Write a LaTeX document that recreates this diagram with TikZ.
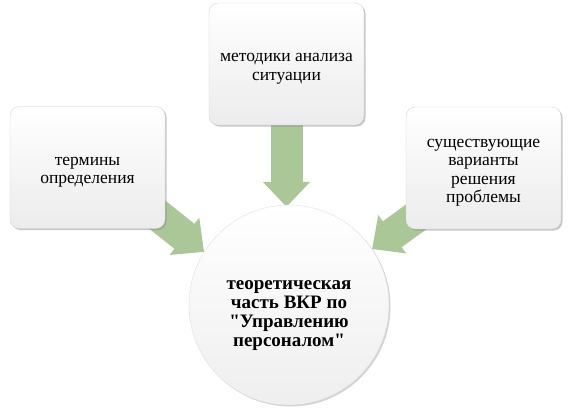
\documentclass[tikz,border=0pt]{standalone}
\usepackage{fontspec}
\setmainfont{Liberation Serif}[Ligatures=TeXOff]
\usetikzlibrary{arrows.meta, shadows}
\definecolor{feedgreen}{RGB}{170,199,152}
\pgfdeclarelayer{back}
\pgfsetlayers{back,main}
\newcommand{\padtop}[1]{\rule{0pt}{#1}}

\begin{document}
\begin{tikzpicture}[x=1pt, y=-1pt,
    topic/.style={rectangle, draw=gray!35, thin, top color=white, bottom color=gray!15,
                  drop shadow={shadow xshift=1.5pt, shadow yshift=-1.5pt, opacity=0.45},
                  rounded corners=9pt, minimum width=155pt, minimum height=122pt,
                  align=center, font=\fontsize{17.5}{18.5}\selectfont},
    core/.style={circle, draw=gray!25, thin, top color=white, bottom color=gray!13,
                 drop shadow={shadow xshift=1.5pt, shadow yshift=-1.5pt, opacity=0.35},
                 minimum size=200pt, align=center,
                 font=\bfseries\fontsize{19}{19}\selectfont},
    feed/.style={line width=32pt, draw=feedgreen, -{Triangle[length=25pt, width=46pt]}}]

    \useasboundingbox (0,0) rectangle (571,408);

    \node[topic] (terms) at (87.5,167.5) {\padtop{18pt}термины\\ определения};

    \node[topic] (methods) at (286.5,64) {\padtop{18pt}методики анализа\\ ситуации};

    \node[topic] (variants) at (483.5,168) {\padtop{18pt}существующие\\ варианты\\ решения\\ проблемы};

    \node[core] (vkr) at (289,305) {\padtop{30pt}теоретическая\\ часть ВКР по\\ "Управлению\\ персоналом"};

    % arrows lie behind the boxes
    \begin{pgfonlayer}{back}
    \draw[feed, shorten >=-2pt] (methods.south) -- (methods.south |- vkr.north);
    \draw[feed] ([xshift=-28pt, yshift=30pt]terms.south east) -- (vkr.148);
    \draw[feed] ([xshift=36pt, yshift=31pt]variants.south west) -- (vkr.34);
    \end{pgfonlayer}

\end{tikzpicture}
\end{document}
